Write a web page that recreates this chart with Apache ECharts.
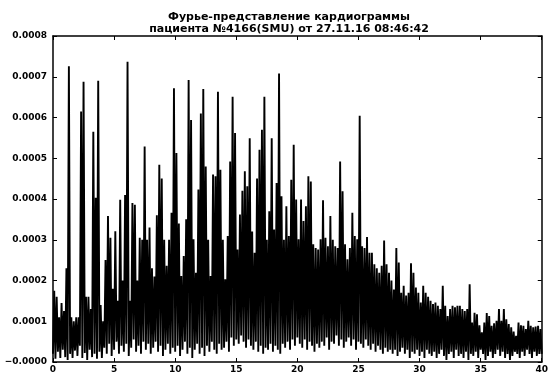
<!DOCTYPE html>
<html>
<head>
<meta charset="utf-8">
<script src="https://cdn.jsdelivr.net/npm/echarts@6/dist/echarts.min.js"></script>
<style>
  html, body { margin: 0; padding: 0; background: #fff; }
  #chart { width: 551px; height: 374px; }
</style>
</head>
<body>
<div id="chart"></div>
<script>
// spectrum amplitudes in units of 1e-4
const SCALE = 1e-4;
const FREQ_STEP = 0.2;
// local maxima, at f = 0.1, 0.3, ... 39.9 Hz
const peakVals = [
  1.75, 1.6, 1.1, 1.45, 1.25, 2.3, 7.26, 1.1, 1.0, 1.1,
  1.1, 6.15, 6.88, 1.6, 1.6, 1.3, 5.65, 4.03, 6.9, 1.4,
  1.0, 2.5, 3.58, 3.05, 1.8, 3.21, 1.5, 3.98, 2.0, 4.1,
  7.37, 1.5, 3.9, 3.86, 2.0, 3.05, 3.0, 5.29, 3.0, 3.3,
  2.3, 2.1, 3.6, 4.84, 4.5, 3.0, 2.36, 3.0, 3.66, 6.72,
  5.13, 3.4, 2.11, 2.6, 3.5, 6.92, 5.94, 3.01, 2.19, 4.23,
  6.10, 6.70, 4.80, 3.0, 2.11, 4.60, 4.56, 6.63, 4.72, 3.0,
  2.03, 3.09, 4.92, 6.51, 5.62, 2.76, 3.62, 4.2, 4.68, 4.31,
  5.49, 3.2, 2.68, 4.5, 5.21, 5.70, 6.51, 3.0, 3.70, 5.49,
  3.25, 4.39, 7.08, 4.07, 3.0, 3.82, 3.09, 4.47, 5.33, 3.99,
  3.01, 3.99, 3.46, 3.82, 4.56, 4.43, 2.89, 2.80, 2.76, 3.01,
  3.97, 3.05, 2.84, 3.58, 3.0, 2.84, 2.80, 4.92, 4.19, 2.89,
  2.52, 2.8, 3.66, 3.09, 3.01, 6.04, 2.84, 2.80, 3.07, 2.68,
  2.68, 2.40, 2.3, 2.19, 2.36, 2.98, 2.40, 2.19, 2.0, 1.78,
  2.80, 2.44, 1.70, 1.87, 1.63, 1.70, 2.42, 2.19, 1.83, 1.70,
  1.46, 1.87, 1.70, 1.6, 1.5, 1.42, 1.46, 1.38, 1.30, 1.87,
  1.38, 1.13, 1.3, 1.38, 1.34, 1.38, 1.38, 1.30, 1.25, 1.30,
  1.91, 0.97, 1.21, 1.17, 0.9, 0.73, 0.97, 1.2, 1.13, 0.89,
  0.95, 1.01, 1.30, 1.01, 1.30, 1.05, 0.93, 0.85, 0.75, 0.64,
  0.97, 0.9, 0.89, 0.81, 1.01, 0.89, 0.85, 0.87, 0.89, 0.81
];
// local minima, at f = 0.0, 0.2, ... 40.0 Hz
const dipVals = [
  0.2, 0.08, 0.25, 0.1, 0.3, 0.12, 0.05, 0.2, 0.1, 0.28,
  0.15, 0.4, 0.1, 0.22, 0.05, 0.3, 0.12, 0.2, 0.08, 0.25,
  0.1, 0.35, 0.2, 0.45, 0.15, 0.3, 0.5, 0.2, 0.4, 0.25,
  0.45, 0.15, 0.35, 0.55, 0.25, 0.4, 0.2, 0.5, 0.3, 0.45,
  0.2, 0.35, 0.5, 0.25, 0.4, 0.15, 0.3, 0.45, 0.2, 0.35,
  0.25, 0.4, 0.15, 0.3, 0.5, 0.2, 0.35, 0.1, 0.3, 0.45,
  0.2, 0.35, 0.15, 0.4, 0.25, 0.5, 0.3, 0.2, 0.45, 0.3,
  0.35, 0.5, 0.25, 0.6, 0.4, 0.55, 0.45, 0.65, 0.5, 0.35,
  0.55, 0.4, 0.3, 0.5, 0.25, 0.4, 0.2, 0.35, 0.3, 0.45,
  0.25, 0.4, 0.3, 0.2, 0.45, 0.35, 0.5, 0.3, 0.55, 0.4,
  0.6, 0.45, 0.35, 0.55, 0.3, 0.5, 0.4, 0.25, 0.45, 0.35,
  0.5, 0.4, 0.6, 0.3, 0.5, 0.45, 0.65, 0.4, 0.55, 0.35,
  0.5, 0.6, 0.4, 0.55, 0.3, 0.5, 0.45, 0.35, 0.55, 0.4,
  0.3, 0.45, 0.25, 0.4, 0.3, 0.2, 0.35, 0.25, 0.3, 0.2,
  0.3, 0.15, 0.25, 0.35, 0.2, 0.3, 0.1, 0.25, 0.2, 0.3,
  0.15, 0.25, 0.1, 0.3, 0.2, 0.15, 0.25, 0.1, 0.2, 0.3,
  0.15, 0.05, 0.2, 0.25, 0.1, 0.3, 0.15, 0.2, 0.1, 0.25,
  0.05, 0.2, 0.15, 0.25, 0.1, 0.3, 0.2, 0.05, 0.15, 0.25,
  0.1, 0.2, 0.3, 0.15, 0.25, 0.1, 0.2, 0.05, 0.15, 0.25,
  0.2, 0.1, 0.25, 0.15, 0.3, 0.2, 0.1, 0.25, 0.15, 0.2,
  0.2
];
const xTicks = [0, 5, 10, 15, 20, 25, 30, 35, 40];
const yTicks = [0, 0.0001, 0.0002, 0.0003, 0.0004, 0.0005, 0.0006, 0.0007, 0.0008];
const titleLines = ['Фурье-представление кардиограммы', 'пациента №4166(SMU) от 27.11.16 08:46:42'];

const spectrum = [];
peakVals.forEach((v, i) => {
    spectrum.push([i * FREQ_STEP, dipVals[i] * SCALE]);
    spectrum.push([i * FREQ_STEP + FREQ_STEP / 2, v * SCALE]);
});
spectrum.push([peakVals.length * FREQ_STEP, dipVals[dipVals.length - 1] * SCALE]);

const font = 'DejaVu Sans';
const tickStyle = { inside: true, length: 4, lineStyle: { color: '#000', width: 1 } };
const lineAxis = { show: true, onZero: false, lineStyle: { color: '#000', width: 1.5 } };

const chart = echarts.init(document.getElementById('chart'));
chart.setOption({
    animation: false,
    title: {
        text: titleLines.join('\n'),
        left: 284,
        top: 6,
        textAlign: 'center',
        textStyle: { fontFamily: font, fontSize: 11, fontWeight: 'bold', color: '#000', lineHeight: 12 }
    },
    grid: { left: 53, right: 6, top: 36, bottom: 11, containLabel: false },
    xAxis: [{
        type: 'value',
        min: xTicks[0],
        max: xTicks[xTicks.length - 1],
        interval: 5,
        axisLine: lineAxis,
        axisTick: tickStyle,
        splitLine: { show: false },
        axisLabel: { margin: 3, fontFamily: font, fontSize: 9, fontWeight: 'bold', color: '#000' }
    }, {
        type: 'value',
        position: 'top',
        min: xTicks[0],
        max: xTicks[xTicks.length - 1],
        interval: 5,
        axisLine: lineAxis,
        axisTick: tickStyle,
        splitLine: { show: false },
        axisLabel: { show: false }
    }],
    yAxis: [{
        type: 'value',
        min: yTicks[0],
        max: yTicks[yTicks.length - 1],
        interval: 0.0001,
        axisLine: lineAxis,
        axisTick: tickStyle,
        splitLine: { show: false },
        axisLabel: {
            margin: 6,
            fontFamily: font, fontSize: 9, fontWeight: 'bold', color: '#000',
            formatter: v => (v === 0 ? '\u22120.0000' : v.toFixed(4))
        }
    }, {
        type: 'value',
        position: 'right',
        min: yTicks[0],
        max: yTicks[yTicks.length - 1],
        interval: 0.0001,
        axisLine: lineAxis,
        axisTick: tickStyle,
        splitLine: { show: false },
        axisLabel: { show: false }
    }],
    series: [{
        type: 'line',
        data: spectrum,
        showSymbol: false,
        sampling: null,
        lineStyle: { color: '#000', width: 1.9 },
        z: 1
    }]
});
</script>
</body>
</html>
